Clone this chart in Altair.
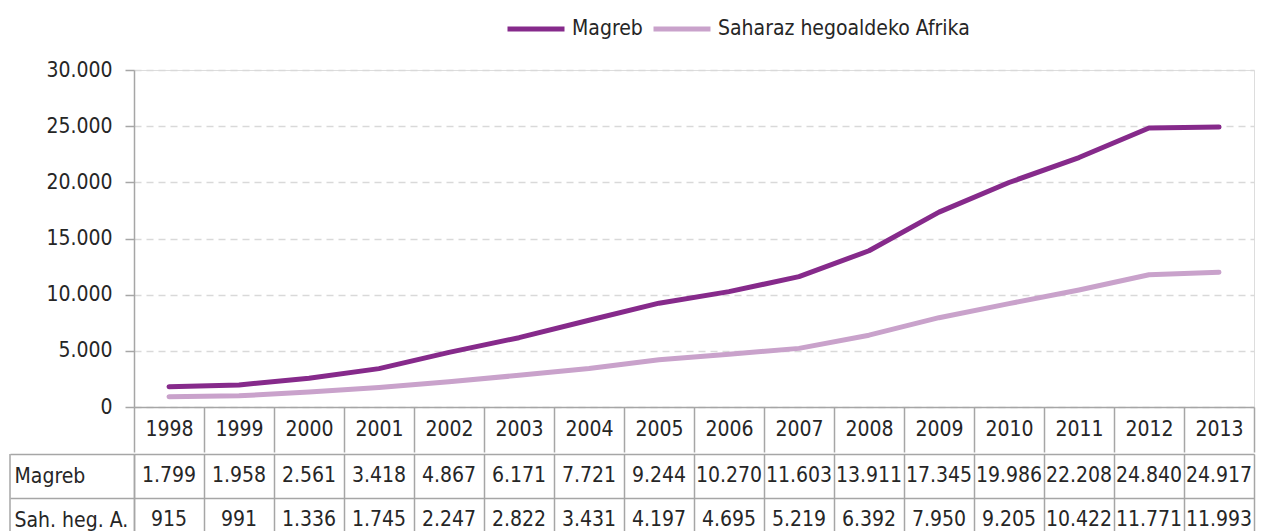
import altair as alt
import pandas as pd

years = [str(y) for y in range(1998, 2014)]
magreb = [1799, 1958, 2561, 3418, 4867, 6171, 7721, 9244, 10270, 11603,
          13911, 17345, 19986, 22208, 24840, 24917]
sah = [915, 991, 1336, 1745, 2247, 2822, 3431, 4197, 4695, 5219,
       6392, 7950, 9205, 10422, 11771, 11993]
series_names = ["Magreb", "Saharaz hegoaldeko Afrika"]
row_labels = ["Magreb", "Sah. heg. A."]
colors = ["#862a8b", "#c9a2cb"]
y_ticks = [0, 5000, 10000, 15000, 20000, 25000, 30000]

FONT = "DejaVu Sans Condensed, sans-serif"
FS = 21
TXT = "#262626"
GRAY = "#a6a6a6"
W = 1120
FMT = "replace(format(datum.value, ',d'), ',', '.')"

line_df = pd.DataFrame({
    "year": years * 2,
    "value": magreb + sah,
    "series": [series_names[0]] * len(years) + [series_names[1]] * len(years),
})
table_df = pd.DataFrame({
    "year": years * 2,
    "value": magreb + sah,
    "row": [row_labels[0]] * len(years) + [row_labels[1]] * len(years),
})

x_scale = alt.Scale(type="band", domain=years, paddingInner=0, paddingOuter=0)

lines = alt.Chart(line_df).mark_line(
    strokeWidth=5, strokeCap="round", strokeJoin="round"
).encode(
    x=alt.X("year:O", scale=x_scale, bandPosition=0.5,
            axis=alt.Axis(title=None, orient="bottom", tickBand="extent",
                          tickSize=45, tickColor=GRAY, tickWidth=1.5,
                          domainColor=GRAY, domainWidth=1.5, labelAngle=0,
                          labelFont=FONT, labelFontSize=FS, labelColor=TXT,
                          labelBaseline="middle", labelPadding=-22.5,
                          grid=False)),
    y=alt.Y("value:Q", scale=alt.Scale(domain=[0, 30000], nice=False),
            axis=alt.Axis(title=None, values=y_ticks, labelExpr=FMT,
                          tickSize=9, tickColor=GRAY, tickWidth=1.5,
                          domainColor=GRAY, domainWidth=1.5,
                          labelFont=FONT, labelFontSize=FS, labelColor=TXT,
                          labelPadding=13, grid=True, gridColor="#d9d9d9",
                          gridDash=[7, 5], gridWidth=1.5)),
    color=alt.Color("series:N", sort=series_names,
                    scale=alt.Scale(domain=series_names, range=colors),
                    legend=alt.Legend(title=None, orient="none", legendX=371,
                                      legendY=-53, direction="horizontal",
                                      symbolType="M-1,0H5", symbolSize=361,
                                      symbolStrokeWidth=5, labelFont=FONT,
                                      labelFontSize=FS, labelColor=TXT,
                                      labelOffset=43, columnPadding=0,
                                      labelLimit=0, padding=0)),
).properties(width=W, height=337)

table_text = alt.Chart(table_df).transform_calculate(
    label=FMT
).mark_text(font=FONT, fontSize=FS, color=TXT).encode(
    x=alt.X("year:O", scale=x_scale, bandPosition=0.5,
            axis=alt.Axis(title=None, labels=False, ticks=False, domain=False,
                          grid=True, tickBand="extent", gridColor=GRAY,
                          gridWidth=1.5)),
    y=alt.Y("row:N", bandPosition=0.5,
            scale=alt.Scale(type="band", domain=row_labels, paddingInner=0,
                            paddingOuter=0),
            axis=alt.Axis(title=None, grid=True, tickBand="extent",
                          gridColor=GRAY, gridWidth=1.5, tickSize=124,
                          tickColor=GRAY, tickWidth=1.5, domainColor=GRAY,
                          domainWidth=1.5, labelAlign="left", labelPadding=-4,
                          labelFont=FONT, labelFontSize=FS, labelColor=TXT)),
    text="label:N",
)

left_border = alt.Chart(pd.DataFrame({"a": [0]})).mark_rule(
    color=GRAY, strokeWidth=1.5
).encode(x=alt.value(-124), y=alt.value(0), y2=alt.value(88))

table = alt.layer(table_text, left_border).properties(width=W, height=88)

chart = alt.vconcat(lines, table, spacing=-14).properties(
    padding={"left": 0, "top": 9, "right": 0, "bottom": 0}
).configure_view(stroke=None).configure(font=FONT)

chart.save("out.html", embed_options={"renderer": "svg", "actions": False})
